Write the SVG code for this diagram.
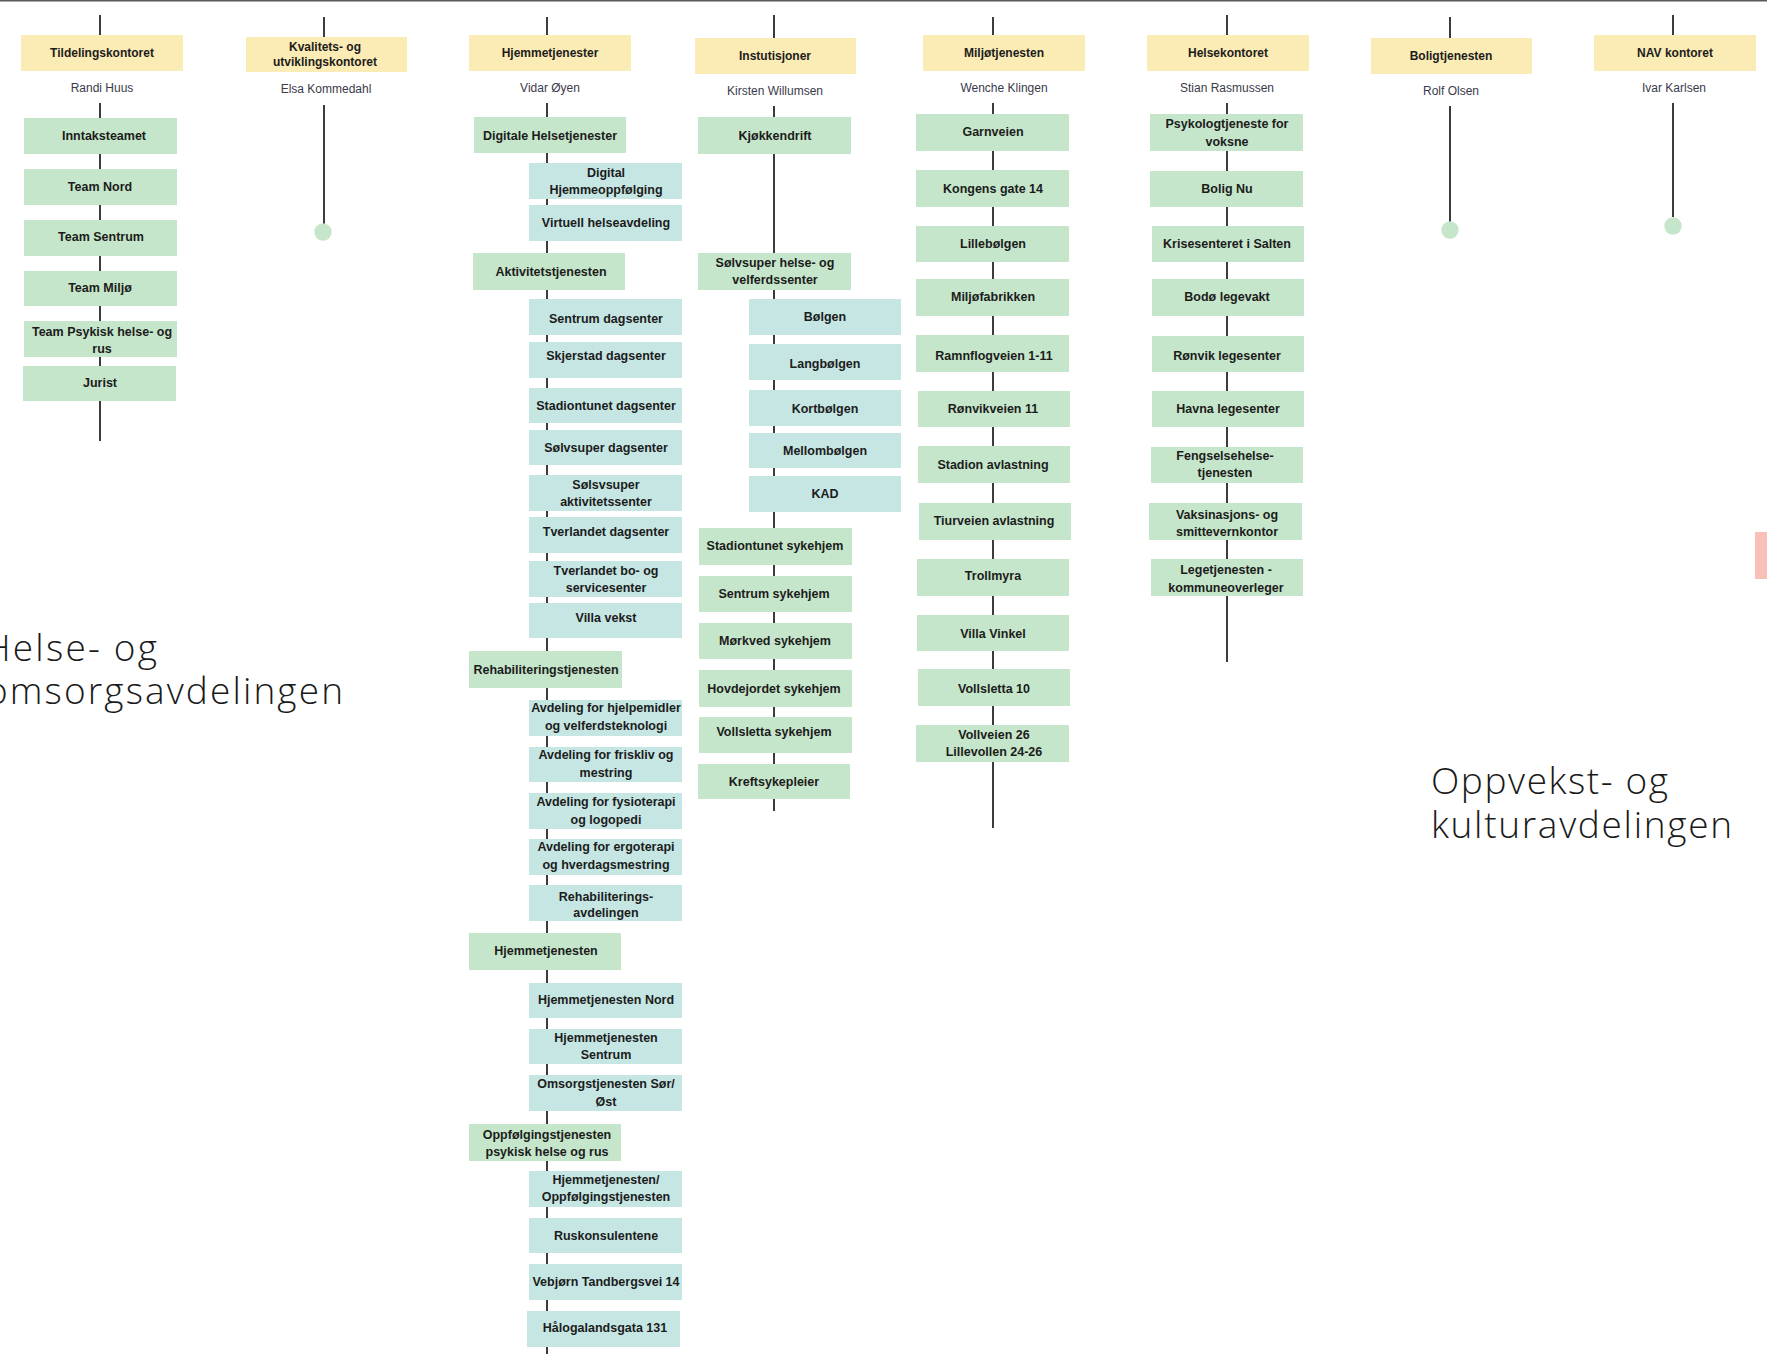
<svg xmlns="http://www.w3.org/2000/svg" width="1767" height="1354" viewBox="0 0 1767 1354">
<style>
.hdr{fill:#fbebb4}
.g{fill:#c5e6ca}
.t{fill:#c5e6e3}
.conn line{stroke:#3c3c3c;stroke-width:2}
.dot{fill:#c5e6ca}
text{font-family:"Liberation Sans",Arial,sans-serif;text-anchor:middle;fill:#1c1c1c}
.lb{font-size:12.5px;font-weight:bold}
.hl{font-size:12px;font-weight:bold}
.nm{font-size:12px;fill:#3a3a4a}
.big{font-family:"Open Sans","Liberation Sans",sans-serif;font-weight:300;font-size:37px;text-anchor:start;fill:#1a1a1a}
</style>
<rect x="0" y="0" width="1767" height="1.5" fill="#5a5a5a"/>
<g id="connectors" class="conn">
<line x1="100" y1="15" x2="100" y2="35"/>
<line x1="100" y1="103" x2="100" y2="441"/>
<line x1="324" y1="17" x2="324" y2="37"/>
<line x1="324" y1="105" x2="324" y2="224"/>
<line x1="547" y1="17" x2="547" y2="35"/>
<line x1="547" y1="103" x2="547" y2="1354"/>
<line x1="774" y1="15" x2="774" y2="38"/>
<line x1="774" y1="106" x2="774" y2="811"/>
<line x1="993" y1="17" x2="993" y2="35"/>
<line x1="993" y1="103" x2="993" y2="828"/>
<line x1="1227" y1="15" x2="1227" y2="35"/>
<line x1="1227" y1="103" x2="1227" y2="662"/>
<line x1="1450" y1="17" x2="1450" y2="38"/>
<line x1="1450" y1="106" x2="1450" y2="222"/>
<line x1="1673" y1="15" x2="1673" y2="35"/>
<line x1="1673" y1="103" x2="1673" y2="217"/>
</g>
<circle class="dot" cx="323" cy="232" r="8.7"/>
<circle class="dot" cx="1450" cy="230" r="8.7"/>
<circle class="dot" cx="1673" cy="226" r="8.7"/>

<!-- Column 1 -->
<g id="tildelingskontoret"><rect class="hdr" x="21" y="35" width="162" height="36"/><text class="hl" x="102" y="57">Tildelingskontoret</text><text class="nm" x="102" y="92">Randi Huus</text></g>
<g id="inntaksteamet"><rect class="g" x="24" y="118" width="153" height="36"/><text class="lb" x="104" y="140">Inntaksteamet</text></g>
<g id="team-nord"><rect class="g" x="24" y="169" width="153" height="36"/><text class="lb" x="100" y="191">Team Nord</text></g>
<g id="team-sentrum"><rect class="g" x="24" y="220" width="153" height="36"/><text class="lb" x="101" y="241">Team Sentrum</text></g>
<g id="team-miljo"><rect class="g" x="24" y="271" width="153" height="35"/><text class="lb" x="100" y="292">Team Miljø</text></g>
<g id="team-psykisk"><rect class="g" x="24" y="321" width="153" height="36"/><text class="lb" x="102" y="336">Team Psykisk helse- og</text><text class="lb" x="102" y="353">rus</text></g>
<g id="jurist"><rect class="g" x="23" y="366" width="153" height="35"/><text class="lb" x="100" y="387">Jurist</text></g>

<!-- Column 2 -->
<g id="kvalitetskontoret"><rect class="hdr" x="246" y="37" width="161" height="35"/><text class="hl" x="325" y="51">Kvalitets- og</text><text class="hl" x="325" y="66">utviklingskontoret</text><text class="nm" x="326" y="93">Elsa Kommedahl</text></g>

<!-- Column 3 -->
<g id="hjemmetjenester"><rect class="hdr" x="469" y="35" width="162" height="36"/><text class="hl" x="550" y="57">Hjemmetjenester</text><text class="nm" x="550" y="92">Vidar Øyen</text></g>
<g id="digitale-helsetjenester"><rect class="g" x="474" y="117" width="152" height="36"/><text class="lb" x="550" y="140">Digitale Helsetjenester</text></g>
<g id="digital-hjemmeoppfolging"><rect class="t" x="529" y="163" width="153" height="36"/><text class="lb" x="606" y="177">Digital</text><text class="lb" x="606" y="194">Hjemmeoppfølging</text></g>
<g id="virtuell-helseavdeling"><rect class="t" x="529" y="205" width="153" height="36"/><text class="lb" x="606" y="227">Virtuell helseavdeling</text></g>
<g id="aktivitetstjenesten"><rect class="g" x="473" y="253" width="152" height="37"/><text class="lb" x="551" y="276">Aktivitetstjenesten</text></g>
<g id="sentrum-dagsenter"><rect class="t" x="529" y="299" width="153" height="36"/><text class="lb" x="606" y="323">Sentrum dagsenter</text></g>
<g id="skjerstad-dagsenter"><rect class="t" x="529" y="342" width="153" height="36"/><text class="lb" x="606" y="360">Skjerstad dagsenter</text></g>
<g id="stadiontunet-dagsenter"><rect class="t" x="529" y="388" width="153" height="35"/><text class="lb" x="606" y="410">Stadiontunet dagsenter</text></g>
<g id="solvsuper-dagsenter"><rect class="t" x="529" y="430" width="153" height="35"/><text class="lb" x="606" y="452">Sølvsuper dagsenter</text></g>
<g id="solsvsuper-aktivitetssenter"><rect class="t" x="529" y="475" width="153" height="36"/><text class="lb" x="606" y="489">Sølsvsuper</text><text class="lb" x="606" y="506">aktivitetssenter</text></g>
<g id="tverlandet-dagsenter"><rect class="t" x="529" y="517" width="153" height="36"/><text class="lb" x="606" y="536">Tverlandet dagsenter</text></g>
<g id="tverlandet-bo"><rect class="t" x="529" y="561" width="153" height="36"/><text class="lb" x="606" y="575">Tverlandet bo- og</text><text class="lb" x="606" y="592">servicesenter</text></g>
<g id="villa-vekst"><rect class="t" x="529" y="603" width="153" height="35"/><text class="lb" x="606" y="622">Villa vekst</text></g>
<g id="rehabiliteringstjenesten"><rect class="g" x="469" y="651" width="153" height="37"/><text class="lb" x="546" y="674">Rehabiliteringstjenesten</text></g>
<g id="avd-hjelpemidler"><rect class="t" x="529" y="700" width="153" height="36"/><text class="lb" x="606" y="712">Avdeling for hjelpemidler</text><text class="lb" x="606" y="730">og velferdsteknologi</text></g>
<g id="avd-friskliv"><rect class="t" x="529" y="747" width="153" height="35"/><text class="lb" x="606" y="759">Avdeling for friskliv og</text><text class="lb" x="606" y="777">mestring</text></g>
<g id="avd-fysioterapi"><rect class="t" x="529" y="793" width="153" height="36"/><text class="lb" x="606" y="806">Avdeling for fysioterapi</text><text class="lb" x="606" y="824">og logopedi</text></g>
<g id="avd-ergoterapi"><rect class="t" x="529" y="839" width="153" height="36"/><text class="lb" x="606" y="851">Avdeling for ergoterapi</text><text class="lb" x="606" y="869">og hverdagsmestring</text></g>
<g id="rehabiliteringsavdelingen"><rect class="t" x="529" y="885" width="153" height="36"/><text class="lb" x="606" y="901">Rehabiliterings-</text><text class="lb" x="606" y="917">avdelingen</text></g>
<g id="hjemmetjenesten"><rect class="g" x="469" y="933" width="152" height="37"/><text class="lb" x="546" y="955">Hjemmetjenesten</text></g>
<g id="hjemmetjenesten-nord"><rect class="t" x="529" y="983" width="153" height="35"/><text class="lb" x="606" y="1004">Hjemmetjenesten Nord</text></g>
<g id="hjemmetjenesten-sentrum"><rect class="t" x="529" y="1029" width="153" height="35"/><text class="lb" x="606" y="1042">Hjemmetjenesten</text><text class="lb" x="606" y="1059">Sentrum</text></g>
<g id="omsorgstjenesten"><rect class="t" x="529" y="1075" width="153" height="36"/><text class="lb" x="606" y="1088">Omsorgstjenesten Sør/</text><text class="lb" x="606" y="1106">Øst</text></g>
<g id="oppfolgingstjenesten"><rect class="g" x="469" y="1124" width="152" height="37"/><text class="lb" x="547" y="1139">Oppfølgingstjenesten</text><text class="lb" x="547" y="1156">psykisk helse og rus</text></g>
<g id="hjemmetjenesten-oppfolging"><rect class="t" x="529" y="1171" width="153" height="36"/><text class="lb" x="606" y="1184">Hjemmetjenesten/</text><text class="lb" x="606" y="1201">Oppfølgingstjenesten</text></g>
<g id="ruskonsulentene"><rect class="t" x="529" y="1218" width="153" height="35"/><text class="lb" x="606" y="1240">Ruskonsulentene</text></g>
<g id="vebjorn"><rect class="t" x="529" y="1264" width="153" height="36"/><text class="lb" x="606" y="1286">Vebjørn Tandbergsvei 14</text></g>
<g id="halogalandsgata"><rect class="t" x="527" y="1311" width="153" height="36"/><text class="lb" x="605" y="1332">Hålogalandsgata 131</text></g>

<!-- Column 4 -->
<g id="instutisjoner"><rect class="hdr" x="695" y="38" width="161" height="36"/><text class="hl" x="775" y="60">Instutisjoner</text><text class="nm" x="775" y="95">Kirsten Willumsen</text></g>
<g id="kjokkendrift"><rect class="g" x="698" y="117" width="153" height="37"/><text class="lb" x="775" y="140">Kjøkkendrift</text></g>
<g id="solvsuper-helse"><rect class="g" x="698" y="253" width="153" height="37"/><text class="lb" x="775" y="267">Sølvsuper helse- og</text><text class="lb" x="775" y="284">velferdssenter</text></g>
<g id="bolgen"><rect class="t" x="749" y="299" width="152" height="36"/><text class="lb" x="825" y="321">Bølgen</text></g>
<g id="langbolgen"><rect class="t" x="749" y="344" width="152" height="36"/><text class="lb" x="825" y="368">Langbølgen</text></g>
<g id="kortbolgen"><rect class="t" x="749" y="390" width="152" height="36"/><text class="lb" x="825" y="413">Kortbølgen</text></g>
<g id="mellombolgen"><rect class="t" x="749" y="433" width="152" height="35"/><text class="lb" x="825" y="455">Mellombølgen</text></g>
<g id="kad"><rect class="t" x="749" y="476" width="152" height="36"/><text class="lb" x="825" y="498">KAD</text></g>
<g id="stadiontunet-sykehjem"><rect class="g" x="699" y="528" width="153" height="37"/><text class="lb" x="775" y="550">Stadiontunet sykehjem</text></g>
<g id="sentrum-sykehjem"><rect class="g" x="699" y="576" width="153" height="36"/><text class="lb" x="774" y="598">Sentrum sykehjem</text></g>
<g id="morkved-sykehjem"><rect class="g" x="699" y="623" width="153" height="36"/><text class="lb" x="775" y="645">Mørkved sykehjem</text></g>
<g id="hovdejordet-sykehjem"><rect class="g" x="699" y="670" width="153" height="37"/><text class="lb" x="774" y="693">Hovdejordet sykehjem</text></g>
<g id="vollsletta-sykehjem"><rect class="g" x="699" y="717" width="153" height="36"/><text class="lb" x="774" y="736">Vollsletta sykehjem</text></g>
<g id="kreftsykepleier"><rect class="g" x="698" y="764" width="152" height="35"/><text class="lb" x="774" y="786">Kreftsykepleier</text></g>

<!-- Column 5 -->
<g id="miljotjenesten"><rect class="hdr" x="923" y="35" width="162" height="36"/><text class="hl" x="1004" y="57">Miljøtjenesten</text><text class="nm" x="1004" y="92">Wenche Klingen</text></g>
<g id="garnveien"><rect class="g" x="916" y="114" width="153" height="37"/><text class="lb" x="993" y="136">Garnveien</text></g>
<g id="kongens-gate"><rect class="g" x="916" y="170" width="153" height="37"/><text class="lb" x="993" y="193">Kongens gate 14</text></g>
<g id="lillebolgen"><rect class="g" x="916" y="226" width="153" height="36"/><text class="lb" x="993" y="248">Lillebølgen</text></g>
<g id="miljofabrikken"><rect class="g" x="916" y="279" width="153" height="37"/><text class="lb" x="993" y="301">Miljøfabrikken</text></g>
<g id="ramnflogveien"><rect class="g" x="916" y="335" width="153" height="37"/><text class="lb" x="994" y="360">Ramnflogveien 1-11</text></g>
<g id="ronvikveien"><rect class="g" x="918" y="391" width="152" height="36"/><text class="lb" x="993" y="413">Rønvikveien 11</text></g>
<g id="stadion-avlastning"><rect class="g" x="918" y="446" width="152" height="37"/><text class="lb" x="993" y="469">Stadion avlastning</text></g>
<g id="tiurveien-avlastning"><rect class="g" x="919" y="503" width="152" height="37"/><text class="lb" x="994" y="525">Tiurveien avlastning</text></g>
<g id="trollmyra"><rect class="g" x="917" y="559" width="152" height="37"/><text class="lb" x="993" y="580">Trollmyra</text></g>
<g id="villa-vinkel"><rect class="g" x="917" y="615" width="152" height="36"/><text class="lb" x="993" y="638">Villa Vinkel</text></g>
<g id="vollsletta-10"><rect class="g" x="918" y="669" width="152" height="37"/><text class="lb" x="994" y="693">Vollsletta 10</text></g>
<g id="vollveien"><rect class="g" x="916" y="725" width="153" height="37"/><text class="lb" x="994" y="739">Vollveien 26</text><text class="lb" x="994" y="756">Lillevollen 24-26</text></g>

<!-- Column 6 -->
<g id="helsekontoret"><rect class="hdr" x="1147" y="35" width="162" height="36"/><text class="hl" x="1228" y="57">Helsekontoret</text><text class="nm" x="1227" y="92">Stian Rasmussen</text></g>
<g id="psykologtjeneste"><rect class="g" x="1150" y="114" width="153" height="37"/><text class="lb" x="1227" y="128">Psykologtjeneste for</text><text class="lb" x="1227" y="146">voksne</text></g>
<g id="bolig-nu"><rect class="g" x="1150" y="171" width="153" height="36"/><text class="lb" x="1227" y="193">Bolig Nu</text></g>
<g id="krisesenteret"><rect class="g" x="1152" y="226" width="152" height="36"/><text class="lb" x="1227" y="248">Krisesenteret i Salten</text></g>
<g id="bodo-legevakt"><rect class="g" x="1152" y="279" width="152" height="37"/><text class="lb" x="1227" y="301">Bodø legevakt</text></g>
<g id="ronvik-legesenter"><rect class="g" x="1152" y="336" width="152" height="36"/><text class="lb" x="1227" y="360">Rønvik legesenter</text></g>
<g id="havna-legesenter"><rect class="g" x="1152" y="391" width="152" height="36"/><text class="lb" x="1228" y="413">Havna legesenter</text></g>
<g id="fengselshelse"><rect class="g" x="1151" y="447" width="152" height="36"/><text class="lb" x="1225" y="460">Fengselsehelse-</text><text class="lb" x="1225" y="477">tjenesten</text></g>
<g id="vaksinasjon"><rect class="g" x="1149" y="503" width="153" height="37"/><text class="lb" x="1227" y="519">Vaksinasjons- og</text><text class="lb" x="1227" y="536">smittevernkontor</text></g>
<g id="legetjenesten"><rect class="g" x="1151" y="559" width="152" height="37"/><text class="lb" x="1226" y="574">Legetjenesten -</text><text class="lb" x="1226" y="592">kommuneoverleger</text></g>

<!-- Column 7 -->
<g id="boligtjenesten"><rect class="hdr" x="1371" y="38" width="161" height="36"/><text class="hl" x="1451" y="60">Boligtjenesten</text><text class="nm" x="1451" y="95">Rolf Olsen</text></g>

<!-- Column 8 -->
<g id="nav-kontoret"><rect class="hdr" x="1594" y="35" width="162" height="36"/><text class="hl" x="1675" y="57">NAV kontoret</text><text class="nm" x="1674" y="92">Ivar Karlsen</text></g>

<rect x="1755" y="532" width="12" height="47" fill="#f9c0b8"/>

<text class="big" x="-16" y="661" textLength="173" lengthAdjust="spacing">Helse- og</text>
<text class="big" x="-14" y="704" textLength="357" lengthAdjust="spacing">omsorgsavdelingen</text>
<text class="big" x="1431" y="794" textLength="237" lengthAdjust="spacing">Oppvekst- og</text>
<text class="big" x="1431" y="838" textLength="301" lengthAdjust="spacing">kulturavdelingen</text>
</svg>
